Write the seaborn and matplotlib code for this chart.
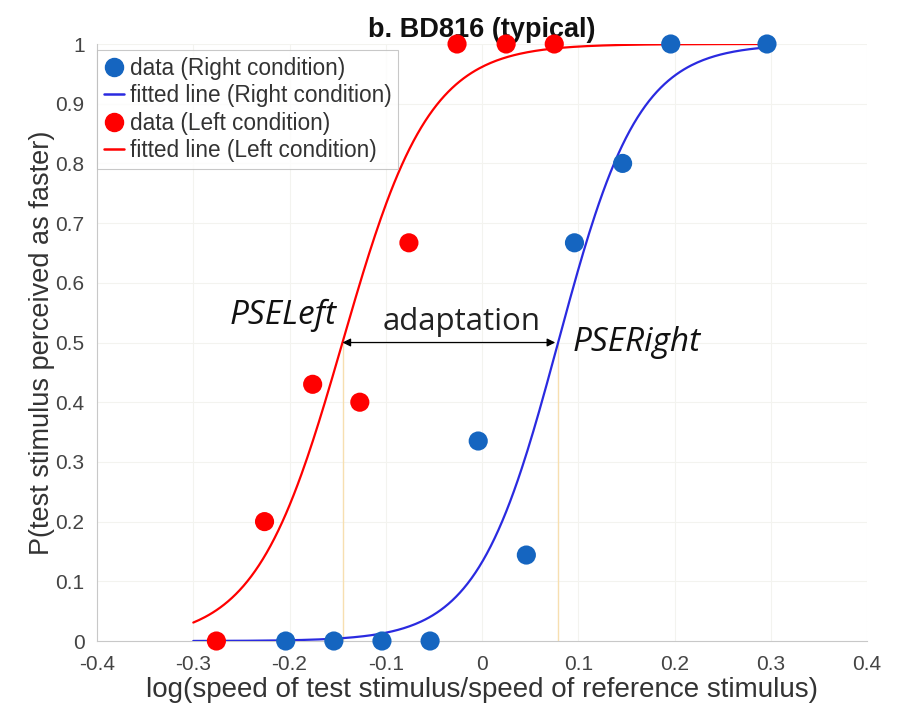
import numpy as np
import pandas as pd
import matplotlib
matplotlib.use("Agg")
import matplotlib.pyplot as plt
import seaborn as sns
from matplotlib.lines import Line2D

# ---- data ----
right_x = [-0.204, -0.154, -0.104, -0.054, -0.004, 0.046, 0.096, 0.146, 0.196, 0.296]
right_y = [0.0, 0.0, 0.0, 0.0, 0.335, 0.144, 0.667, 0.80, 1.0, 1.0]
left_x = [-0.276, -0.226, -0.176, -0.127, -0.076, -0.026, 0.025, 0.075]
left_y = [0.0, 0.20, 0.43, 0.40, 0.667, 1.0, 1.0, 1.0]

# fitted logistic parameters (PSE, spread)
pse_right, spread_right = 0.079, 0.042
pse_left, spread_left = -0.145, 0.045
fit_range = (-0.3, 0.3)

x_ticks = [-0.4, -0.3, -0.2, -0.1, 0, 0.1, 0.2, 0.3, 0.4]
x_tick_labels = ["-0.4", "-0.3", "-0.2", "-0.1", "0", "0.1", "0.2", "0.3", "0.4"]
y_ticks = [0, 0.1, 0.2, 0.3, 0.4, 0.5, 0.6, 0.7, 0.8, 0.9, 1.0]
y_tick_labels = ["0", "0.1", "0.2", "0.3", "0.4", "0.5", "0.6", "0.7", "0.8", "0.9", "1"]

title = "b. BD816 (typical)"
xlabel = "log(speed of test stimulus/speed of reference stimulus)"
ylabel = "P(test stimulus perceived as faster)"
legend_labels = ["data (Right condition)", "fitted line (Right condition)",
                 "data (Left condition)", "fitted line (Left condition)"]

sns.set_style("white")
plt.rcParams['font.family'] = ['Liberation Sans', 'DejaVu Sans']

def logistic(x, mu, s):
    return 1.0 / (1.0 + np.exp(-(x - mu) / s))

xs = np.linspace(fit_range[0], fit_range[1], 300)
fit_df = pd.DataFrame({
    "x": np.concatenate([xs, xs]),
    "y": np.concatenate([logistic(xs, pse_right, spread_right), logistic(xs, pse_left, spread_left)]),
    "cond": ["Right"] * len(xs) + ["Left"] * len(xs),
})

fig = plt.figure(figsize=(9.07, 7.12), dpi=100)
ax = fig.add_axes([0.107, 0.0997, 0.849, 0.8385])

blue_dot = "#1565c0"
blue_line = "#2a2ae0"
red = "#ff0000"

# faint grid
for xv in x_ticks:
    ax.axvline(xv, color="#f3f3ef", lw=0.8, zorder=0)
for yv in y_ticks:
    ax.axhline(yv, color="#f3f3ef", lw=0.8, zorder=0)

# PSE guide lines
ax.plot([pse_left, pse_left], [0, 0.5], color="#f7dfb0", lw=1.0, zorder=1)
ax.plot([pse_right, pse_right], [0, 0.5], color="#f7dfb0", lw=1.0, zorder=1)

sns.lineplot(data=fit_df[fit_df.cond == "Right"], x="x", y="y", color=blue_line, lw=1.6,
             ax=ax, legend=False, zorder=3)
sns.lineplot(data=fit_df[fit_df.cond == "Left"], x="x", y="y", color=red, lw=1.6,
             ax=ax, legend=False, zorder=3)
sns.scatterplot(x=right_x, y=right_y, color=blue_dot, s=190, edgecolor="none", ax=ax,
                zorder=4, clip_on=False)
sns.scatterplot(x=left_x, y=left_y, color=red, s=190, edgecolor="none", ax=ax,
                zorder=4, clip_on=False)

# arrow and annotations
ann_font = ["Open Sans", "DejaVu Sans"]
ax.annotate("", xy=(pse_left, 0.5), xytext=(pse_right - 0.003, 0.5),
            arrowprops=dict(arrowstyle="<|-|>", color="black", lw=0.9,
                            mutation_scale=12, shrinkA=0, shrinkB=0), zorder=5)
ax.text(-0.021, 0.535, "adaptation", ha="center", va="center",
        fontsize=22.5, family=ann_font, color="#222222")
ax.text(pse_left - 0.006, 0.545, "PSELeft", ha="right", va="center", fontsize=24,
        style="italic", family=ann_font, color="#111111")
ax.text(pse_right + 0.015, 0.5, "PSERight", ha="left", va="center", fontsize=24,
        style="italic", family=ann_font, color="#111111")

ax.set_xlim(-0.4, 0.4)
ax.set_ylim(0, 1)
ax.set_xticks(x_ticks)
ax.set_xticklabels(x_tick_labels)
ax.set_yticks(y_ticks)
ax.set_yticklabels(y_tick_labels)
ax.tick_params(axis="both", labelsize=15, colors="#444444", length=4, width=0.6,
               direction="in")
ax.tick_params(axis="x", pad=10)
ax.tick_params(axis="y", pad=9)
for sp in ["top", "right"]:
    ax.spines[sp].set_visible(False)
for sp in ["left", "bottom"]:
    ax.spines[sp].set_color("#c8c8c8")
    ax.spines[sp].set_linewidth(0.8)

ax.set_xlabel(xlabel, fontsize=20, color="#333333", labelpad=2)
ax.set_ylabel(ylabel, fontsize=19.5, color="#333333", labelpad=0)
ax.set_title(title, fontsize=19.5, fontweight="bold", color="#111111", pad=5)

handles = [
    Line2D([], [], marker="o", ls="none", color=blue_dot, markersize=13),
    Line2D([], [], color=blue_line, lw=1.8),
    Line2D([], [], marker="o", ls="none", color=red, markersize=13),
    Line2D([], [], color=red, lw=1.8),
]
leg = ax.legend(handles, legend_labels, loc="upper left", bbox_to_anchor=(0.0, 0.99),
                fontsize=16.3, frameon=True, fancybox=False, handlelength=0.9,
                handletextpad=0.25, borderpad=0.3, labelspacing=0.2, borderaxespad=0.0)
leg.get_frame().set_edgecolor("#bbbbbb")
leg.get_frame().set_linewidth(0.8)
for t in leg.get_texts():
    t.set_color("#333333")

fig.savefig("out.png", dpi=100)
